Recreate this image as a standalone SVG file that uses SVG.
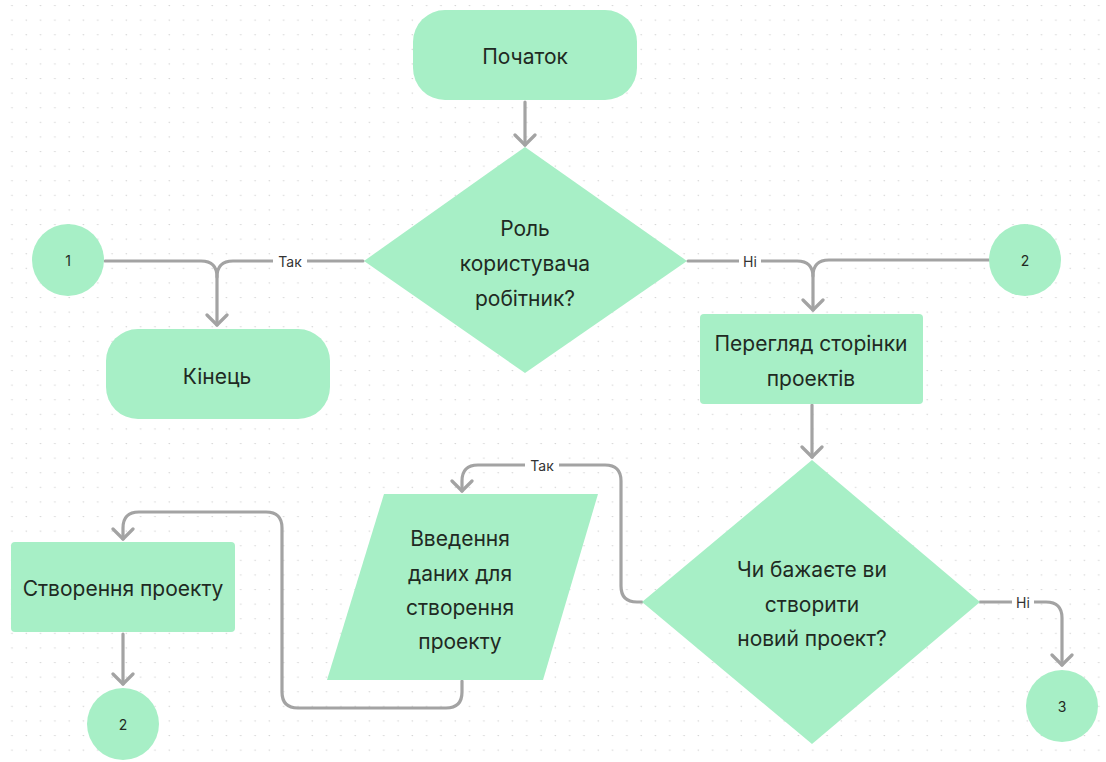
<svg xmlns="http://www.w3.org/2000/svg" width="1106" height="762" viewBox="0 0 1106 762">
  <defs>
    <pattern id="dots" x="5" y="5" width="14.3" height="14.6" patternUnits="userSpaceOnUse">
      <circle cx="7" cy="0.5" r="0.8" fill="#d4d4d4"/>
    </pattern>
    <marker id="chev" viewBox="-12 -12 14 24" markerWidth="14" markerHeight="24" refX="0" refY="0" orient="auto" markerUnits="userSpaceOnUse">
      <path d="M-10,-10 L0,0 L-10,10" fill="none" stroke="#a3a3a3" stroke-width="3.2" stroke-linecap="round" stroke-linejoin="round"/>
    </marker>
    <style>
      .shape { fill: #a7efc6; }
      .node-text { font-family: Inter, "Noto Sans", "Liberation Sans", sans-serif; font-size: 21px; fill: #1f2a23; text-anchor: middle; dominant-baseline: central; }
      .small-text { font-family: Inter, "Noto Sans", "Liberation Sans", sans-serif; font-size: 14px; fill: #1f2a23; text-anchor: middle; dominant-baseline: central; }
      .edge { fill: none; stroke: #a3a3a3; stroke-width: 3.2; stroke-linecap: round; stroke-linejoin: round; }
      .label-bg { fill: #ffffff; }
      .label { font-family: Inter, "Noto Sans", "Liberation Sans", sans-serif; font-size: 14px; fill: #333333; text-anchor: middle; dominant-baseline: central; }
    </style>
  </defs>

  <rect width="1106" height="762" fill="#ffffff"/>
  <rect width="1106" height="762" fill="url(#dots)"/>

  <!-- connectors -->
  <g id="connectors">
    <path class="edge" d="M525,102 V145" marker-end="url(#chev)"/>
    <path class="edge" d="M363,261 H233 Q217,261 217,277 V325" marker-end="url(#chev)"/>
    <path class="edge" d="M105,261 H201 Q217,261 217,277"/>
    <path class="edge" d="M688,261 H797 Q813,261 813,277 V310" marker-end="url(#chev)"/>
    <path class="edge" d="M989,260 H829 Q813,260 813,276"/>
    <path class="edge" d="M812,405 V457" marker-end="url(#chev)"/>
    <path class="edge" d="M980,602 H1046 Q1062,602 1062,618 V665" marker-end="url(#chev)"/>
    <path class="edge" d="M642,602 H637 Q621,602 621,586 V481 Q621,465 605,465 H478 Q462,465 462,481 V491" marker-end="url(#chev)"/>
    <path class="edge" d="M462,681 V692 Q462,708 446,708 H298 Q282,708 282,692 V528 Q282,512 266,512 H139 Q123,512 123,528 V539" marker-end="url(#chev)"/>
    <path class="edge" d="M123,634 V684" marker-end="url(#chev)"/>

    <rect class="label-bg" x="273" y="252" width="34" height="18"/>
    <text class="label" x="290" y="261">Так</text>
    <rect class="label-bg" x="739" y="252" width="22" height="18"/>
    <text class="label" x="750" y="261">Ні</text>
    <rect class="label-bg" x="1012" y="593" width="22" height="18"/>
    <text class="label" x="1023" y="602">Ні</text>
    <rect class="label-bg" x="525" y="456" width="34" height="18"/>
    <text class="label" x="542" y="465">Так</text>
  </g>

  <g id="start">
    <rect class="shape" x="413" y="10" width="224" height="90" rx="32"/>
    <text class="node-text" x="525" y="56">Початок</text>
  </g>

  <g id="role-decision">
    <polygon class="shape" points="525,147 687,261 525,373 364,261"/>
    <text class="node-text" x="525" y="228">Роль</text>
    <text class="node-text" x="525" y="263">користувача</text>
    <text class="node-text" x="525" y="298">робітник?</text>
  </g>

  <g id="connector-1">
    <circle class="shape" cx="68" cy="260" r="36"/>
    <text class="small-text" x="68" y="260">1</text>
  </g>

  <g id="end">
    <rect class="shape" x="106" y="329" width="224" height="90" rx="32"/>
    <text class="node-text" x="217" y="376">Кінець</text>
  </g>

  <g id="connector-2-top">
    <circle class="shape" cx="1025" cy="260" r="36"/>
    <text class="small-text" x="1025" y="260">2</text>
  </g>

  <g id="view-projects">
    <rect class="shape" x="700" y="314" width="223" height="90" rx="4"/>
    <text class="node-text" x="811" y="343">Перегляд сторінки</text>
    <text class="node-text" x="811" y="378">проектів</text>
  </g>

  <g id="create-decision">
    <polygon class="shape" points="812,460 980,602 812,744 642,602"/>
    <text class="node-text" x="812" y="569">Чи бажаєте ви</text>
    <text class="node-text" x="812" y="604">створити</text>
    <text class="node-text" x="812" y="638">новий проект?</text>
  </g>

  <g id="connector-3">
    <circle class="shape" cx="1062" cy="706" r="36"/>
    <text class="small-text" x="1062" y="706">3</text>
  </g>

  <g id="input-data">
    <polygon class="shape" points="384,494 598,494 543,680 327,680"/>
    <text class="node-text" x="460" y="538">Введення</text>
    <text class="node-text" x="460" y="573">даних для</text>
    <text class="node-text" x="460" y="607">створення</text>
    <text class="node-text" x="460" y="641">проекту</text>
  </g>

  <g id="create-project">
    <rect class="shape" x="11" y="542" width="224" height="90" rx="4"/>
    <text class="node-text" x="123" y="588">Створення проекту</text>
  </g>

  <g id="connector-2-bottom">
    <circle class="shape" cx="123" cy="724" r="36"/>
    <text class="small-text" x="123" y="724">2</text>
  </g>
</svg>
